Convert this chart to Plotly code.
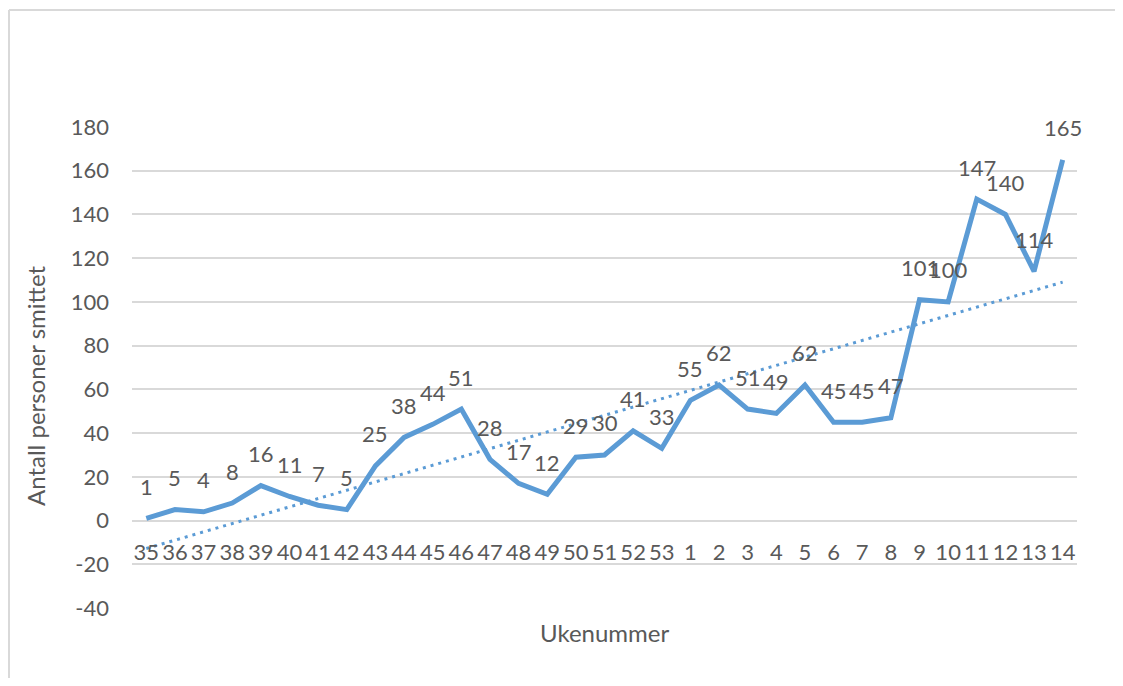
import numpy as np
import plotly.graph_objects as go

weeks = ["35", "36", "37", "38", "39", "40", "41", "42", "43", "44", "45", "46", "47", "48", "49",
         "50", "51", "52", "53", "1", "2", "3", "4", "5", "6", "7", "8", "9", "10", "11", "12", "13", "14"]
cases = [1, 5, 4, 8, 16, 11, 7, 5, 25, 38, 44, 51, 28, 17, 12,
         29, 30, 41, 33, 55, 62, 51, 49, 62, 45, 45, 47, 101, 100, 147, 140, 114, 165]
y_ticks = [-40, -20, 0, 20, 40, 60, 80, 100, 120, 140, 160, 180]
y_tick_labels = ["-40", "-20", "0", "20", "40", "60", "80", "100", "120", "140", "160", "180"]

x_idx = list(range(len(weeks)))
# linear trendline (least squares) as Excel does
slope, intercept = np.polyfit(np.arange(1, len(cases) + 1), cases, 1)
trend = [intercept + slope * (i + 1) for i in x_idx]

BLUE = "#5B9BD5"
TXT = "#595959"
GRID = "#D9D9D9"
FONT = "Lato"
FS = 22
FT = 24

OFF = 8  # page body margin
W, H = 1107, 670
L, T = 132 - OFF, 127 - OFF
R = W - (1077 - OFF)
B = H - (608 - OFF)
pw, ph = W - L - R, H - T - B


def px_x(p):
    return (p - OFF - L) / pw


def px_y(p):
    return (H - B - (p - OFF)) / ph


fig = go.Figure()
fig.add_trace(go.Scatter(x=x_idx, y=trend, mode="lines",
                         line=dict(color=BLUE, width=3, dash="3px,5px"),
                         hoverinfo="skip", showlegend=False))
fig.add_trace(go.Scatter(x=x_idx, y=cases, mode="lines",
                         line=dict(color=BLUE, width=5, shape="linear"),
                         showlegend=False))

for xi, v in zip(x_idx, cases):
    fig.add_annotation(x=xi, y=v, text=str(v), showarrow=False, yshift=32,
                       xanchor="center", yanchor="middle",
                       font=dict(family=FONT, size=FS, color=TXT))

fig.add_annotation(xref="paper", yref="paper", x=px_x(35), y=px_y(386),
                   xanchor="center", yanchor="middle",
                   text="Antall personer smittet", textangle=-90, showarrow=False,
                   font=dict(family=FONT, size=FT, color=TXT))
fig.add_annotation(xref="paper", yref="paper", x=0.5, y=px_y(632),
                   xanchor="center", yanchor="middle",
                   text="Ukenummer", showarrow=False,
                   font=dict(family=FONT, size=FT, color=TXT))

# chart-area border (left and top edges visible in the reference)
bx = px_x(OFF + 1)
by = px_y(OFF + 2)
fig.add_shape(type="line", xref="paper", yref="paper", x0=bx, x1=bx, y0=-1, y1=by,
              line=dict(color=GRID, width=2))
fig.add_shape(type="line", xref="paper", yref="paper", x0=bx, x1=1.5, y0=by, y1=by,
              line=dict(color=GRID, width=2))

fig.update_layout(
    width=W, height=H,
    margin=dict(l=L, r=R, t=T, b=B, pad=0),
    paper_bgcolor="white", plot_bgcolor="white",
    font=dict(family=FONT, size=FS, color=TXT),
    xaxis=dict(tickvals=x_idx, ticktext=weeks, range=[-0.5, len(weeks) - 0.5],
               anchor="free", position=40 / 220, showgrid=False, showline=False,
               zeroline=False, ticks="", ticklabelstandoff=16,
               tickfont=dict(family=FONT, size=FS, color=TXT)),
    yaxis=dict(range=[-40, 180], tickvals=y_ticks, ticktext=y_tick_labels,
               showgrid=True, gridcolor=GRID,
               gridwidth=1.5, zeroline=False, showline=False, ticks="",
               ticklabelstandoff=22,
               tickfont=dict(family=FONT, size=FS, color=TXT)),
)

fig.write_html("out.html")
